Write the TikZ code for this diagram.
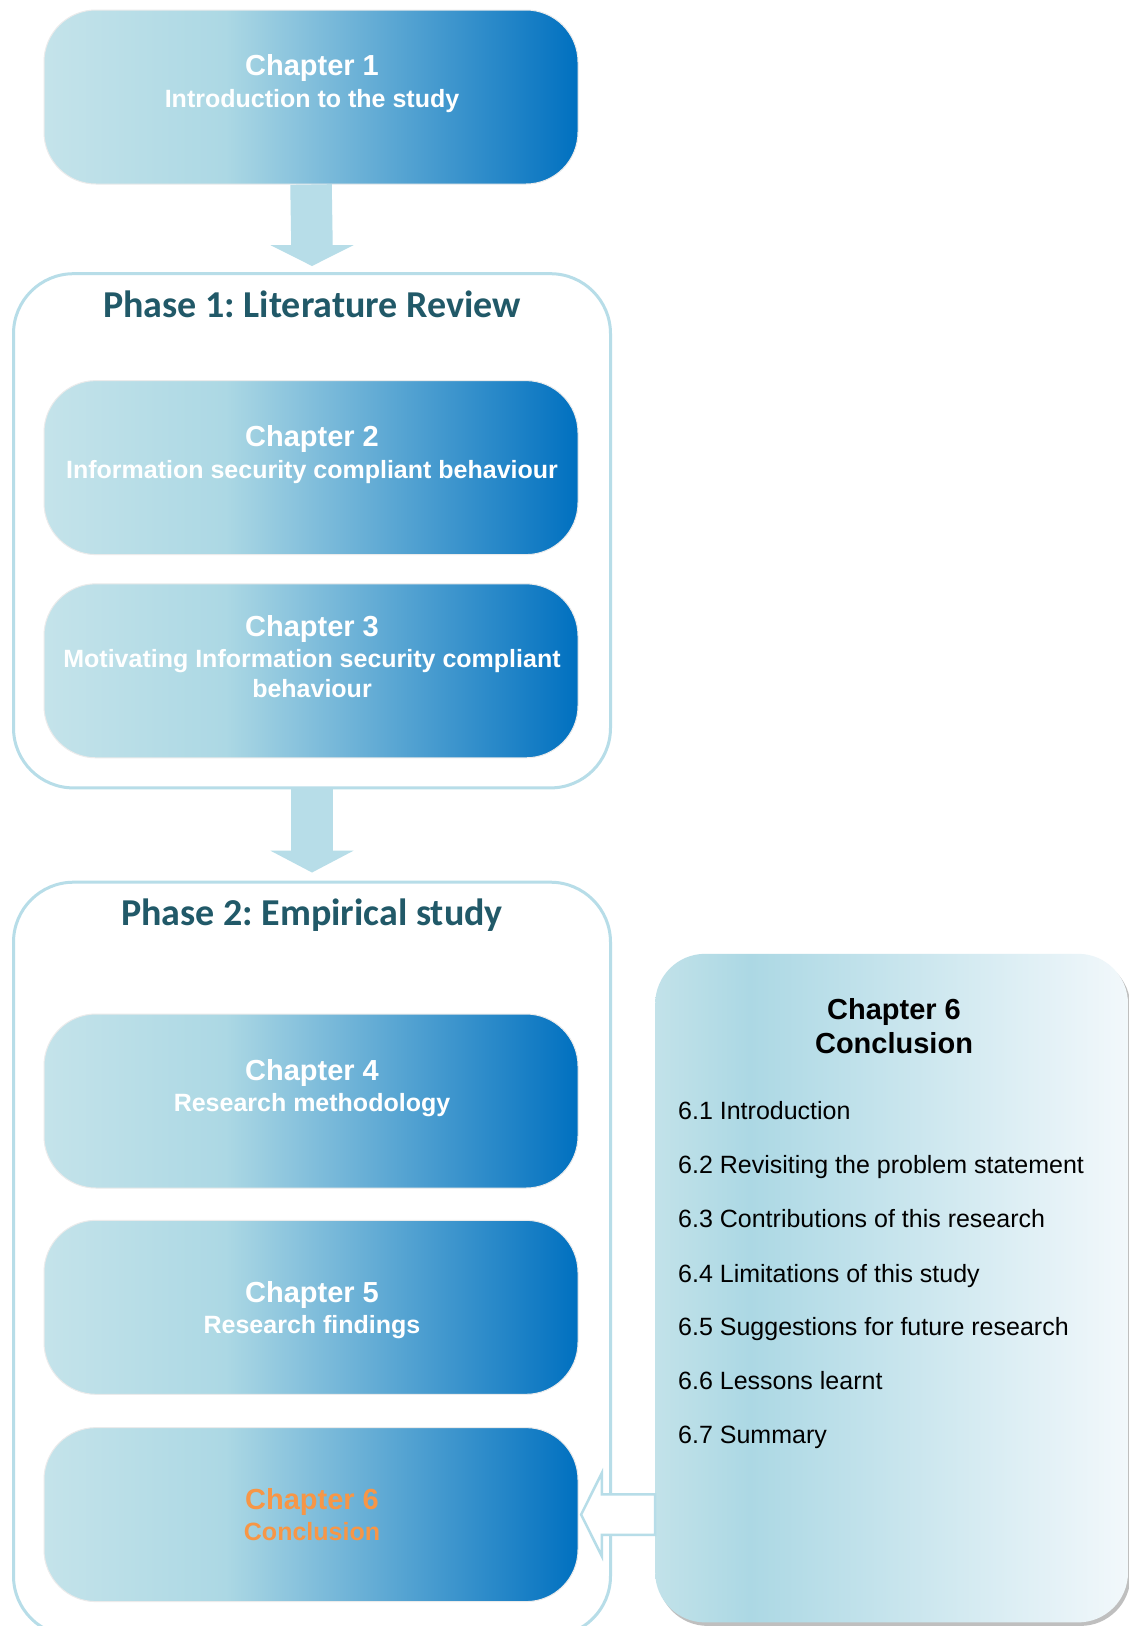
\documentclass[tikz,border=0pt]{standalone}
\usepackage{fontspec}
\setmainfont{Liberation Sans}
\newfontfamily\phasefont{Carlito}
\usetikzlibrary{calc,shadows}
\frenchspacing

\definecolor{gradA}{HTML}{C4E3EA}
\definecolor{gradB}{HTML}{ACD8E4}
\definecolor{gradC}{HTML}{0070C0}
\definecolor{sideA}{HTML}{C2E2E9}
\definecolor{sideC}{HTML}{F2F8FB}
\definecolor{frameblue}{HTML}{B7DDE8}
\definecolor{phaseteal}{HTML}{215968}
\definecolor{hiorange}{HTML}{F79646}

% light-to-blue fill of the chapter boxes, pale fill of the outline box
\pgfdeclarehorizontalshading{chapshade}{100bp}{color(0bp)=(gradA); color(25bp)=(gradA); color(42bp)=(gradB); color(75bp)=(gradC); color(100bp)=(gradC)}
\pgfdeclarehorizontalshading{sideshade}{100bp}{color(0bp)=(sideA); color(25bp)=(sideA); color(35bp)=(gradB); color(75bp)=(sideC); color(100bp)=(sideC)}

\begin{document}
\begin{tikzpicture}[x=1pt, y=-1pt,
  chapbox/.style={rectangle, rounded corners=52pt, shading=chapshade, draw=black!8, line width=1pt,
                  minimum width=534pt, minimum height=174pt, inner sep=0pt},
  phasebox/.style={rectangle, rounded corners=60pt, draw=frameblue, line width=3pt, fill=white,
                   minimum width=597pt, inner sep=0pt},
  chaptitle/.style={font=\bfseries\fontsize{29}{33}\selectfont, text=white, inner sep=0pt,
                    text height=20.8pt, text depth=0pt},
  chapsub/.style={font=\bfseries\fontsize{25}{30}\selectfont, text=white, inner sep=0pt,
                  text height=17.9pt, text depth=0pt},
  phasetitle/.style={font=\phasefont\bfseries\fontsize{38}{44}\selectfont, text=phaseteal, inner sep=0pt,
                     text height=24.5pt, text depth=0pt},
  sidetitle/.style={font=\bfseries\fontsize{29}{33}\selectfont, text=black, inner sep=0pt,
                    text height=20.8pt, text depth=0pt},
  sideitem/.style={font=\fontsize{25}{30}\selectfont, text=black, inner sep=0pt, anchor=west,
                   text height=17.9pt, text depth=0pt},
  blockarrow/.style={fill=frameblue},
]
\useasboundingbox (0,0) rectangle (1129,1626);
\fill[white] (0,0) rectangle (1129,1626);

% phase containers
\node[phasebox, minimum height=514.2pt] (p1) at (312,530.8) {};
\node[phasebox, minimum height=753.8pt] (p2) at (312,1259.1) {};

% chapter boxes
\node[chapbox] (c1) at (311,97) {};
\node[chapbox] (c2) at (311,467.6) {};
\node[chapbox] (c3) at (311,670.8) {};
\node[chapbox] (c4) at (311,1101) {};
\node[chapbox] (c5) at (311,1307.3) {};
\node[chapbox] (c6) at (311,1514.6) {};

% chapter labels
\node[chaptitle] (c1a) at (312,65.3) {Chapter 1};
\node[chapsub]   (c1b) at (312,98.5) {Introduction to the study};
\node[chaptitle] (c2a) at (312,436.5) {Chapter 2};
\node[chapsub]   (c2b) at (312,469.6) {Information security compliant behaviour};
\node[chaptitle] (c3a) at (312,626.2) {Chapter 3};
\node[chapsub]   (c3b) at (312,658.3) {Motivating Information security compliant};
\node[chapsub]   (c3c) at (312,688.4) {behaviour};
\node[chaptitle] (c4a) at (312,1070) {Chapter 4};
\node[chapsub]   (c4b) at (312,1103) {Research methodology};
\node[chaptitle] (c5a) at (312,1291.7) {Chapter 5};
\node[chapsub]   (c5b) at (312,1324.9) {Research findings};
\node[chaptitle, text=hiorange] (c6a) at (312,1499.1) {Chapter 6};
\node[chapsub, text=hiorange]   (c6b) at (312,1531.2) {Conclusion};

% phase titles
\node[phasetitle] (p1t) at (312,304.8) {Phase 1: Literature Review};
\node[phasetitle] (p2t) at (312,913.3) {Phase 2: Empirical study};

% block arrows between the stages
\draw[frameblue, line width=41.5pt] (c1.south) -- ($(p1.north)+(0,-26)$);
\fill[blockarrow] ($(p1.north)+(-41.5,-27)$) -- ($(p1.north)+(41.5,-27)$) -- ($(p1.north)+(0,-6.2)$) -- cycle;
\draw[frameblue, line width=41.5pt] (p1.south) -- ($(p2.north)+(0,-29)$);
\fill[blockarrow] ($(p2.north)+(-41.5,-30)$) -- ($(p2.north)+(41.5,-30)$) -- ($(p2.north)+(0,-8.2)$) -- cycle;

% chapter 6 outline box
\node[rectangle, rounded corners=50pt, shading=sideshade, minimum width=472.8pt, minimum height=668.6pt,
      inner sep=0pt, drop shadow={shadow xshift=2.5pt, shadow yshift=-3.5pt, opacity=0.45, fill=black!55}]
      (side) at (891.6,1288.1) {};
\node[sidetitle] (s0a) at (894,1008.7) {Chapter 6};
\node[sidetitle] (s0b) at (894,1042.9) {Conclusion};
\node[sideitem] (s1) at (678,1110.3) {6.1 Introduction};
\node[sideitem] (s2) at (678,1164.2) {6.2 Revisiting the problem statement};
\node[sideitem] (s3) at (678,1218.1) {6.3 Contributions of this research};
\node[sideitem] (s4) at (678,1273.1) {6.4 Limitations of this study};
\node[sideitem] (s5) at (678,1327.0) {6.5 Suggestions for future research};
\node[sideitem] (s6) at (678,1380.9) {6.6 Lessons learnt};
\node[sideitem] (s7) at (678,1434.8) {6.7 Summary};

% outlined arrow from the outline box back to chapter 6
\coordinate (tipL) at ($(c6.east)+(2.6,0)$);
\coordinate (baseL) at (side.west |- c6.east);
\draw[frameblue, line width=2.5pt, fill=white, line join=miter]
  (tipL) -- ($(tipL)+(20.7,-41.5)$) -- ($(tipL)+(20.7,-20.2)$) -- ($(baseL)+(0,-20.2)$)
  -- ($(baseL)+(0,20.2)$) -- ($(tipL)+(20.7,20.2)$) -- ($(tipL)+(20.7,41.5)$) -- cycle;
\end{tikzpicture}
\end{document}
